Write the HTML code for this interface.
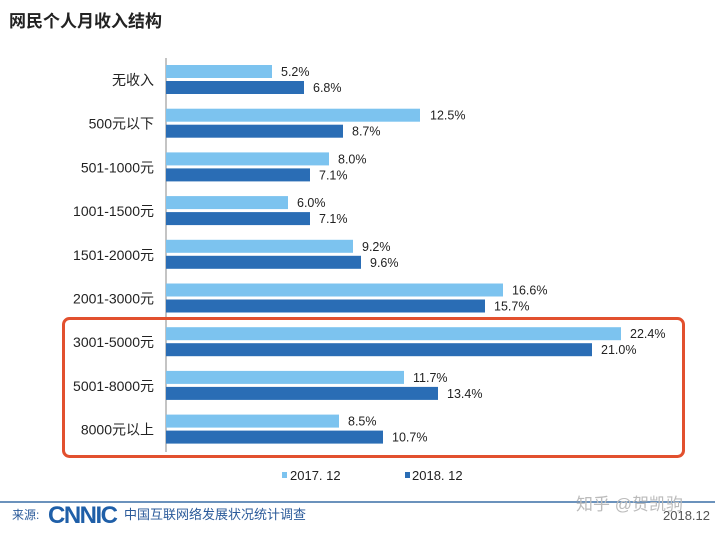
<!DOCTYPE html>
<html><head><meta charset="utf-8"><style>
body{margin:0;background:#fff;}
svg text{font-family:"Liberation Sans","Noto Sans CJK SC",sans-serif;}
</style></head><body>
<svg width="720" height="528" viewBox="0 0 720 528" xmlns="http://www.w3.org/2000/svg">
<rect width="720" height="528" fill="#fff"/>
<text x="9" y="27" font-size="17" font-weight="bold" fill="#222" font-family="'Noto Serif CJK SC',serif">网民个人月收入结构</text>
<line x1="166" y1="58" x2="166" y2="452" stroke="#888" stroke-width="1"/>
<g font-size="12.5" fill="#222">
<rect x="166" y="65" width="106" height="13" fill="#7cc3ef"/><rect x="166" y="81" width="138" height="13" fill="#2a6db5"/>
<text x="281" y="76">5.2%</text><text x="313" y="92">6.8%</text>
<rect x="166" y="108.7" width="254" height="13" fill="#7cc3ef"/><rect x="166" y="124.7" width="177" height="13" fill="#2a6db5"/>
<text x="430" y="119.7">12.5%</text><text x="352" y="135.7">8.7%</text>
<rect x="166" y="152.4" width="163" height="13" fill="#7cc3ef"/><rect x="166" y="168.4" width="144" height="13" fill="#2a6db5"/>
<text x="338" y="163.4">8.0%</text><text x="319" y="179.4">7.1%</text>
<rect x="166" y="196.1" width="122" height="13" fill="#7cc3ef"/><rect x="166" y="212.1" width="144" height="13" fill="#2a6db5"/>
<text x="297" y="207.1">6.0%</text><text x="319" y="223.1">7.1%</text>
<rect x="166" y="239.8" width="187" height="13" fill="#7cc3ef"/><rect x="166" y="255.8" width="195" height="13" fill="#2a6db5"/>
<text x="362" y="250.8">9.2%</text><text x="370" y="266.8">9.6%</text>
<rect x="166" y="283.5" width="337" height="13" fill="#7cc3ef"/><rect x="166" y="299.5" width="319" height="13" fill="#2a6db5"/>
<text x="512" y="294.5">16.6%</text><text x="494" y="310.5">15.7%</text>
<rect x="166" y="327.2" width="455" height="13" fill="#7cc3ef"/><rect x="166" y="343.2" width="426" height="13" fill="#2a6db5"/>
<text x="630" y="338.2">22.4%</text><text x="601" y="354.2">21.0%</text>
<rect x="166" y="370.9" width="238" height="13" fill="#7cc3ef"/><rect x="166" y="386.9" width="272" height="13" fill="#2a6db5"/>
<text x="413" y="381.9">11.7%</text><text x="447" y="397.9">13.4%</text>
<rect x="166" y="414.6" width="173" height="13" fill="#7cc3ef"/><rect x="166" y="430.6" width="217" height="13" fill="#2a6db5"/>
<text x="348" y="425.6">8.5%</text><text x="392" y="441.6">10.7%</text>
</g>
<g font-size="14" fill="#222" text-anchor="end">
<text x="154" y="85">无收入</text>
<text x="154" y="128.7">500元以下</text>
<text x="154" y="172.4">501-1000元</text>
<text x="154" y="216.1">1001-1500元</text>
<text x="154" y="259.8">1501-2000元</text>
<text x="154" y="303.5">2001-3000元</text>
<text x="154" y="347.2">3001-5000元</text>
<text x="154" y="390.9">5001-8000元</text>
<text x="154" y="434.6">8000元以上</text>
</g>
<rect x="63.5" y="318.5" width="620" height="138" rx="6" fill="none" stroke="#e2502e" stroke-width="3"/>
<rect x="282" y="472" width="5" height="6" fill="#7cc3ef"/><text x="290" y="480" font-size="13" fill="#222">2017. 12</text>
<rect x="405" y="472" width="5" height="6" fill="#2a6db5"/><text x="412" y="480" font-size="13" fill="#222">2018. 12</text>
<line x1="0" y1="502" x2="715" y2="502" stroke="#3a6ea5" stroke-width="1.5"/>
<text x="12" y="519" font-size="12" fill="#2a5a9a">来源:</text>
<text x="48" y="523" font-size="24" font-weight="bold" fill="#1f5fa8" letter-spacing="-1.5">CNNIC</text>
<text x="124" y="519" font-size="13" fill="#2a5a9a">中国互联网络发展状况统计调查</text>
<text x="576" y="510" font-size="17" fill="#bbb">知乎 @贺凯驹</text>
<text x="710" y="520" font-size="13" fill="#555" text-anchor="end">2018.12</text>
</svg>
</body></html>
